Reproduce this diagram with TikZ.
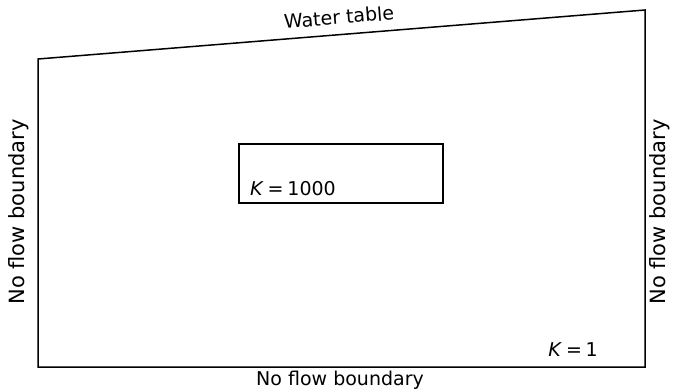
\documentclass[tikz,border=0pt]{standalone}
\usepackage{fontspec}
\setmainfont{DejaVu Sans}
\usepackage{tikz}
\usetikzlibrary{calc,positioning}

\begin{document}
\begin{tikzpicture}[
    x=1pt, y=-1pt,
    edge/.style={line width=1.5pt, line join=miter},
    lbl/.style={font=\fontsize{19}{21}\selectfont, inner sep=0pt},
    side/.style={lbl, font=\fontsize{21}{23}\selectfont, rotate=90}
]
    \useasboundingbox (0,0) rectangle (676,391);

    % Corners of the section
    \coordinate (bl) at (38,367);
    \coordinate (tl) at (38,59);
    \coordinate (tr) at (645,10);
    \coordinate (br) at (645,367);

    % Outer boundary
    \draw[edge] (bl) -- (tl) -- (tr) -- (br) -- cycle;

    % Inclusion of high conductivity
    \coordinate (inA) at (239,144);
    \coordinate (inB) at (443,203);
    \draw[edge] (inA) rectangle (inB);

    % Labels
    \node[lbl, rotate=4.6] (wt) at (339,17) {Water table};
    \node[lbl] (bottom) at (340,380) {No flow boundary};
    \node[side] (left) at (19,212) {No flow boundary};
    \node[side] (right) at (660,212) {No flow boundary};
    \node[lbl, anchor=base west] (kin) at (250,195) {\textit{K}\hspace{0.2em}=\hspace{0.2em}1000};
    \node[lbl, anchor=base east] (kout) at (598,356) {\textit{K}\hspace{0.2em}=\hspace{0.2em}1};
\end{tikzpicture}
\end{document}
